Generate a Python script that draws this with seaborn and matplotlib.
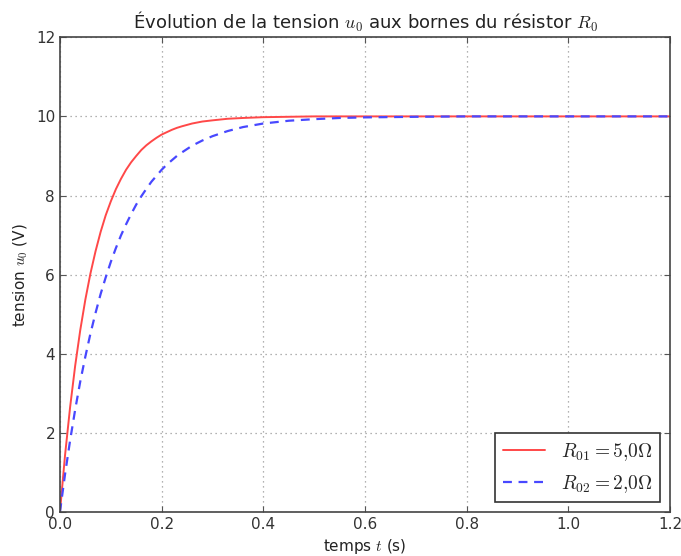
import numpy as np
import pandas as pd
import seaborn as sns
import matplotlib
matplotlib.use("Agg")
import matplotlib.pyplot as plt

# times (s) and voltages (V)
t = [0.0, 0.01, 0.02, 0.03, 0.04, 0.05, 0.06, 0.07, 0.08, 0.09, 0.10,
     0.11, 0.12, 0.13, 0.14, 0.15, 0.16, 0.17, 0.18, 0.19, 0.20, 0.21,
     0.22, 0.23, 0.24, 0.26, 0.28, 0.30, 0.33, 0.36, 0.40, 0.45,
     0.50, 0.55, 0.60, 0.70, 0.80, 0.90, 1.00, 1.10, 1.20]
u_r01 = [0.0, 1.43, 2.65, 3.70, 4.60, 5.37, 6.03, 6.59, 7.08, 7.50, 7.85,
         8.16, 8.42, 8.65, 8.84, 9.00, 9.15, 9.27, 9.37, 9.46, 9.54, 9.60,
         9.66, 9.71, 9.75, 9.82, 9.87, 9.90, 9.94, 9.96, 9.98, 9.99,
         10.0, 10.0, 10.0, 10.0, 10.0, 10.0, 10.0, 10.0, 10.0]
u_r02 = [0.0, 0.95, 1.81, 2.59, 3.30, 3.93, 4.51, 5.03, 5.51, 5.93, 6.32,
         6.67, 6.99, 7.27, 7.53, 7.77, 7.98, 8.17, 8.35, 8.50, 8.65, 8.78,
         8.89, 9.00, 9.09, 9.26, 9.39, 9.50, 9.63, 9.73, 9.82, 9.89,
         9.93, 9.96, 9.975, 9.99, 10.0, 10.0, 10.0, 10.0, 10.0]
labels = [r"$R_{01} = 5{,}0 \Omega$", r"$R_{02} = 2{,}0 \Omega$"]

sns.set_style("ticks")
plt.rcParams["mathtext.fontset"] = "cm"
plt.rcParams["font.family"] = ["DejaVu Sans"]

fig = plt.figure(figsize=(6.81, 5.56), dpi=100)
ax = fig.add_axes([0.088, 0.079, 0.896, 0.854])

sns.lineplot(x=t, y=u_r01, ax=ax, color="#ff4848", lw=1.4, label=labels[0])
sns.lineplot(x=t, y=u_r02, ax=ax, color="#4848ff", lw=1.6, label=labels[1])
ax.lines[1].set_dashes([4, 3])

ax.set_xlim(0, 1.2)
ax.set_ylim(0, 12)
ax.set_xticks(np.arange(0, 1.21, 0.2))
ax.set_xticklabels([f"{v:.1f}" for v in np.arange(0, 1.21, 0.2)])
ax.set_yticks(range(0, 13, 2))
ax.grid(True, linestyle=(0, (1, 3)), color="#999999", lw=0.9)
ax.tick_params(direction="in", top=True, right=True, labelsize=11, length=4,
               labelcolor="#333333", color="#555555")
for s in ax.spines.values():
    s.set_linewidth(1.2)
    s.set_color("#444444")

ax.set_title(r"Évolution de la tension $u_0$ aux bornes du résistor $R_0$",
             fontsize=13, color="#222222")
ax.set_xlabel(r"temps $t$ (s)", fontsize=11, color="#222222")
ax.set_ylabel(r"tension $u_0$ (V)", fontsize=11, color="#222222")

leg = ax.legend(loc="lower right", fontsize=14, fancybox=False, handlelength=2.2,
                borderpad=0.4, framealpha=1)
leg.get_frame().set_edgecolor("#333333")
leg.get_frame().set_linewidth(1.2)

fig.savefig("out.png", dpi=100)
